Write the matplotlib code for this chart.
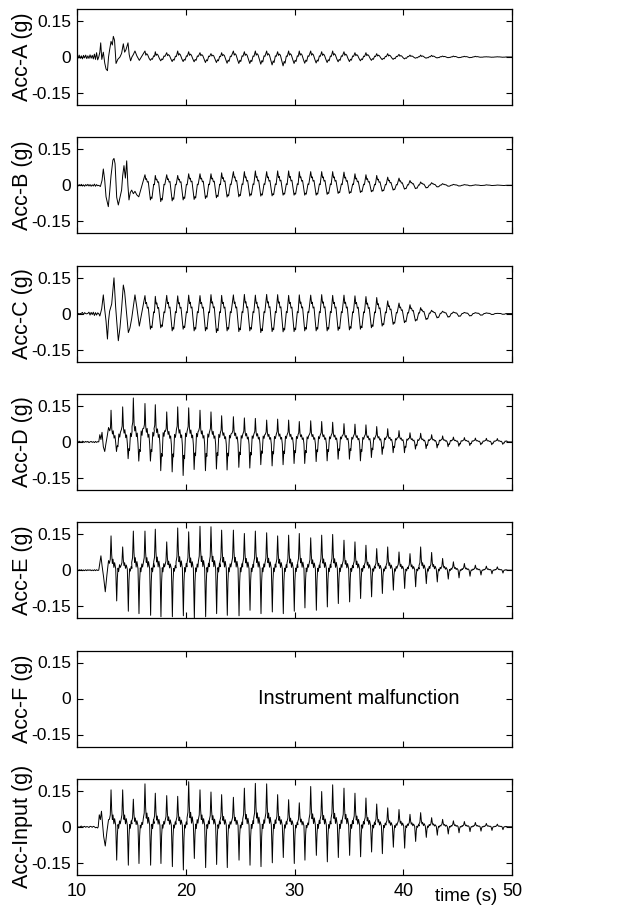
import matplotlib
matplotlib.use('Agg')
import matplotlib.pyplot as plt

plt.rcParams['font.family'] = ['Liberation Sans', 'DejaVu Sans']
plt.rcParams['axes.unicode_minus'] = False

labels = ['Acc-A (g)', 'Acc-B (g)', 'Acc-C (g)', 'Acc-D (g)', 'Acc-E (g)',
          'Acc-F (g)', 'Acc-Input (g)']

# times of the main positive peaks (s)
cycle_t = [13.13, 14.20, 15.18, 16.25, 17.20, 18.25, 19.26, 20.27, 21.31, 22.32,
           23.30, 24.38, 25.39, 26.40, 27.44, 28.45, 29.46, 30.44, 31.49, 32.50,
           33.51, 34.55, 35.56, 36.57, 37.56, 38.57, 39.61, 40.62, 41.60, 42.61,
           43.62, 44.61, 45.62, 46.63, 47.64, 48.65]

# pre-event noise
pre_t = [10.0, 10.1, 10.2, 10.3, 10.4, 10.5, 10.6, 10.7, 10.8, 10.9,
         11.0, 11.1, 11.2, 11.3, 11.4, 11.5, 11.6, 11.7, 11.8, 11.9]
end_t = [49.6, 50.0]
end_a = [0.0, 0.0]

# ---- Acc-A
pre_A = [0.006, -0.005, 0.008, -0.006, 0.005, -0.008, 0.007, -0.004, 0.008, -0.007,
         0.005, -0.006, 0.009, -0.005, 0.007, -0.008, 0.012, -0.01, 0.018, -0.012]
on_t_A = [12.0, 12.1, 12.18, 12.28, 12.42, 12.55, 12.67, 12.8, 12.9, 13.0,
          13.13, 13.25, 13.34, 13.45, 13.59, 13.75, 13.95, 14.1, 14.26, 14.38,
          14.5, 14.69, 14.8, 14.93, 15.05, 15.18, 15.33, 15.5, 15.73]
on_A = [0.0, 0.02, 0.059, -0.01, 0.02, -0.025, -0.05, -0.057, 0.0, 0.03,
        0.065, 0.05, 0.086, 0.07, -0.027, -0.01, 0.0, 0.015, 0.055, 0.02,
        0.03, 0.059, 0.01, -0.016, 0.0, 0.01, 0.025, 0.005, -0.014]
pos_A = [0.025, 0.022, 0.018, 0.025, 0.022, 0.018, 0.014, 0.018, 0.025, 0.022,
         0.025, 0.025, 0.022, 0.025, 0.025, 0.025, 0.022, 0.025, 0.022, 0.018,
         0.018, 0.014, 0.014, 0.011, 0.008, 0.008, 0.007, 0.004, 0.004, 0.003,
         0.003, 0.001, 0.001]
neg_A = [-0.014, -0.016, -0.019, -0.019, -0.02, -0.023, -0.023, -0.026, -0.027, -0.027,
         -0.03, -0.033, -0.037, -0.027, -0.026, -0.025, -0.023, -0.02, -0.019, -0.016,
         -0.014, -0.011, -0.01, -0.008, -0.005, -0.005, -0.004, -0.003, -0.003, -0.003,
         -0.001, -0.001, -0.001]

# ---- Acc-B
pre_B = [0.002, -0.003, 0.003, -0.002, 0.004, -0.003, 0.002, -0.004, 0.003, -0.002,
         0.004, -0.003, 0.003, -0.004, 0.002, -0.003, 0.005, -0.004, 0.003, -0.002]
on_t_B = [12.0, 12.15, 12.3, 12.42, 12.55, 12.67, 12.88, 13.0, 13.13, 13.3,
          13.4, 13.5, 13.65, 13.8, 13.95, 14.1, 14.2, 14.32, 14.45, 14.57,
          14.68, 14.78, 14.9, 15.03, 15.18, 15.33, 15.5, 15.68]
on_B = [0.0, -0.005, 0.02, 0.068, 0.02, -0.048, -0.089, -0.03, 0.04, 0.105,
        0.112, 0.09, -0.05, -0.082, -0.05, -0.02, 0.04, 0.082, 0.03, 0.102,
        0.0, -0.061, -0.03, -0.02, -0.035, -0.025, -0.04, -0.048]
pos_B = [0.044, 0.041, 0.044, 0.041, 0.048, 0.048, 0.048, 0.052, 0.057, 0.057,
         0.06, 0.057, 0.06, 0.06, 0.057, 0.057, 0.057, 0.057, 0.055, 0.048,
         0.044, 0.041, 0.034, 0.03, 0.02, 0.014, 0.011, 0.007, 0.004, 0.003,
         0.002, 0.002, 0.001]
neg_B = [-0.061, -0.068, -0.065, -0.061, -0.059, -0.055, -0.052, -0.049, -0.048, -0.045,
         -0.045, -0.044, -0.041, -0.041, -0.041, -0.041, -0.038, -0.034, -0.034, -0.03,
         -0.027, -0.025, -0.02, -0.016, -0.014, -0.011, -0.007, -0.004, -0.003, -0.002,
         -0.001, -0.001, -0.001]

# ---- Acc-C
pre_C = [0.0, 0.001, -0.001, 0.0, 0.001, 0.005, -0.004, 0.004, 0.0, -0.001,
         0.001, 0.006, -0.006, 0.005, -0.004, 0.006, -0.008, 0.004, -0.006, 0.003]
on_t_C = [12.0, 12.1, 12.27, 12.42, 12.54, 12.67, 12.8, 12.9, 13.0, 13.19,
          13.4, 13.55, 13.65, 13.8, 13.95, 14.1, 14.26, 14.38, 14.5, 14.72,
          14.87, 15.03, 15.33, 15.49, 15.73]
on_C = [0.0, -0.01, 0.02, 0.078, 0.02, -0.031, -0.106, -0.03, 0.01, 0.04,
        0.149, 0.03, -0.03, -0.113, -0.06, 0.02, 0.119, 0.09, 0.03, -0.079,
        -0.06, -0.02, 0.078, 0.03, -0.052]
pos_C = [0.075, 0.072, 0.076, 0.074, 0.077, 0.075, 0.079, 0.076, 0.078, 0.08,
         0.077, 0.08, 0.079, 0.076, 0.078, 0.077, 0.079, 0.076, 0.077, 0.074,
         0.071, 0.067, 0.053, 0.044, 0.037, 0.025, 0.014, 0.01, 0.007, 0.005,
         0.004, 0.003, 0.001]
neg_C = [-0.065, -0.059, -0.072, -0.065, -0.072, -0.072, -0.079, -0.072, -0.075, -0.072,
         -0.079, -0.075, -0.076, -0.075, -0.072, -0.072, -0.072, -0.07, -0.068, -0.065,
         -0.059, -0.052, -0.045, -0.038, -0.031, -0.025, -0.018, -0.015, -0.012, -0.01,
         -0.007, -0.004, -0.003]

# ---- Acc-D
pre_D = [0.002, -0.002, 0.003, 0.0, -0.002, 0.003, 0.001, -0.002, 0.002, -0.001,
         0.002, -0.003, 0.0, 0.002, -0.002, 0.001, -0.003, 0.002, -0.002, 0.001]
on_t_D = [12.0, 12.1, 12.2, 12.3, 12.42, 12.55, 12.65, 12.8, 12.9]
on_D = [0.0, 0.03, 0.01, 0.04, -0.02, -0.04, -0.01, 0.03, 0.06]
pos_D = [0.132, 0.146, 0.183, 0.16, 0.155, 0.125, 0.146, 0.142, 0.132, 0.125,
         0.109, 0.105, 0.1, 0.098, 0.091, 0.095, 0.091, 0.085, 0.088, 0.085,
         0.082, 0.076, 0.074, 0.071, 0.064, 0.055, 0.047, 0.038, 0.036, 0.03,
         0.025, 0.02, 0.018, 0.016, 0.015, 0.014]
neg_D = [-0.04, -0.07, -0.08, -0.08, -0.12, -0.125, -0.14, -0.115, -0.12, -0.113,
         -0.117, -0.106, -0.109, -0.095, -0.1, -0.095, -0.09, -0.09, -0.082, -0.079,
         -0.072, -0.072, -0.079, -0.065, -0.052, -0.045, -0.045, -0.03, -0.028, -0.025,
         -0.02, -0.018, -0.015, -0.012, -0.012, -0.01]

# ---- Acc-E
pre_E = [0.002, -0.002, 0.002, -0.001, 0.002, -0.002, 0.001, -0.002, 0.002, -0.002,
         0.002, -0.001, 0.002, -0.002, 0.001, -0.002, 0.002, -0.002, 0.002, -0.001]
on_t_E = [12.0, 12.1, 12.2, 12.3, 12.45, 12.6, 12.75, 12.9]
on_E = [0.0, 0.03, 0.06, 0.02, -0.03, -0.09, -0.02, 0.04]
pos_E = [0.143, 0.097, 0.163, 0.163, 0.171, 0.118, 0.176, 0.16, 0.183, 0.181,
         0.167, 0.167, 0.153, 0.163, 0.156, 0.143, 0.146, 0.153, 0.135, 0.146,
         0.149, 0.125, 0.118, 0.104, 0.09, 0.097, 0.076, 0.069, 0.097, 0.074,
         0.049, 0.035, 0.028, 0.021, 0.017, 0.014]
neg_E = [-0.128, -0.171, -0.181, -0.188, -0.194, -0.194, -0.19, -0.2, -0.194, -0.181,
         -0.188, -0.19, -0.167, -0.181, -0.174, -0.181, -0.171, -0.157, -0.167, -0.153,
         -0.139, -0.132, -0.118, -0.111, -0.097, -0.083, -0.076, -0.069, -0.056, -0.049,
         -0.037, -0.032, -0.025, -0.02, -0.015, -0.012]

# ---- Acc-Input
pre_I = [0.002, 0.0, -0.002, 0.001, 0.003, -0.001, 0.0, 0.002, -0.002, 0.001,
         0.0, -0.003, 0.002, 0.001, -0.002, 0.002, 0.0, -0.004, -0.002, -0.005]
on_t_I = [11.95, 12.05, 12.15, 12.25, 12.35, 12.45, 12.6, 12.75, 12.9]
on_I = [0.0, 0.05, 0.03, 0.065, 0.01, -0.04, -0.08, -0.02, 0.03]
pos_I = [0.154, 0.154, 0.115, 0.179, 0.14, 0.13, 0.127, 0.188, 0.154, 0.145,
         0.134, 0.123, 0.161, 0.181, 0.179, 0.134, 0.113, 0.10, 0.168, 0.147,
         0.175, 0.161, 0.14, 0.12, 0.095, 0.079, 0.072, 0.052, 0.059, 0.038,
         0.031, 0.025, 0.022, 0.018, 0.014, 0.011]
neg_I = [-0.139, -0.16, -0.153, -0.16, -0.153, -0.166, -0.18, -0.132, -0.17, -0.157,
         -0.17, -0.139, -0.16, -0.166, -0.15, -0.128, -0.153, -0.139, -0.119, -0.146,
         -0.128, -0.119, -0.125, -0.105, -0.112, -0.085, -0.089, -0.061, -0.044, -0.035,
         -0.03, -0.025, -0.02, -0.018, -0.015, -0.012]

# wave shape inside one cycle: (time offset, weight on peak, weight on trough)
SPIKE = [(-0.15, 0.2, 0), (-0.07, 0.32, 0), (0, 1, 0), (0.06, 0.45, 0), (0.12, 0.2, 0),
         (0.18, 0.32, 0), (0.26, 0.08, 0), (0.33, 0.22, 0), (0.43, 0.04, 0),
         (0.52, 0, 1), (0.58, 0, 0.25), (0.64, 0.06, 0), (0.7, -0.04, 0),
         (0.78, 0.16, 0), (0.85, 0.08, 0)]
TRI = [(0, 1, 0), (0.08, 0.55, 0), (0.14, 0.62, 0), (0.22, 0.3, 0), (0.3, 0.36, 0),
       (0.5, 0, 1), (0.57, 0, 0.8), (0.64, 0, 0.9), (0.8, 0.1, 0), (0.87, 0.05, 0)]
DWAVE = [(-0.12, 0.35, 0), (-0.05, 0.45, 0), (0, 1, 0), (0.07, 0.4, 0), (0.13, 0.25, 0),
         (0.2, 0.35, 0), (0.28, 0.12, 0), (0.36, 0.2, 0), (0.43, 0, 0.1),
         (0.5, 0, 1), (0.57, 0, 0.4), (0.63, 0, 0.5), (0.72, 0.25, 0), (0.8, 0.15, 0),
         (0.86, 0.3, 0)]
AWAVE = [(0, 1, 0), (0.08, 0.3, 0), (0.16, 0.55, 0), (0.25, 0.35, 0), (0.38, 0, 0.4),
         (0.5, 0, 1), (0.6, 0, 0.5), (0.68, 0, 0.7), (0.8, 0.2, 0), (0.88, 0.1, 0)]


def trace(pre, on_t, on_a, first, pos, neg, shape):
    t = list(pre_t) + list(on_t)
    a = list(pre) + list(on_a)
    for tc, p, n in zip(cycle_t[first:], pos, neg):
        for dt, wp, wn in shape:
            t.append(tc + dt)
            a.append(wp * p + wn * n)
    return t + end_t, a + end_a


traces = [
    trace(pre_A, on_t_A, on_A, 3, pos_A, neg_A, AWAVE),
    trace(pre_B, on_t_B, on_B, 3, pos_B, neg_B, TRI),
    trace(pre_C, on_t_C, on_C, 3, pos_C, neg_C, TRI),
    trace(pre_D, on_t_D, on_D, 0, pos_D, neg_D, DWAVE),
    trace(pre_E, on_t_E, on_E, 0, pos_E, neg_E, SPIKE),
    None,
    trace(pre_I, on_t_I, on_I, 0, pos_I, neg_I, SPIKE),
]

W, H = 638, 911
fig = plt.figure(figsize=(W / 100, H / 100), dpi=100, facecolor='white')

left, width, height = 77 / W, 435 / W, 96 / H
for i, (lab, tr) in enumerate(zip(labels, traces)):
    top = 9 + i * 128.3
    ax = fig.add_axes([left, 1 - (top + 96) / H, width, height])
    if tr is not None:
        ax.plot(tr[0], tr[1], color='k', lw=0.7)
    ax.set_xlim(10, 50)
    ax.set_ylim(-0.2, 0.2)
    ax.set_yticks([-0.15, 0, 0.15])
    ax.set_yticklabels(['-0.15', '0', '0.15'])
    ax.set_xticks([10, 20, 30, 40, 50])
    ax.tick_params(direction='in', top=True, right=True, length=4, width=0.8,
                   labelsize=12.5, pad=4)
    for s in ax.spines.values():
        s.set_linewidth(0.9)
    ax.set_ylabel(lab, fontsize=15.5, va='center')
    ax.yaxis.set_label_coords(-0.125, 0.5)
    if i < len(labels) - 1:
        ax.set_xticklabels([])
    else:
        ax.tick_params(axis='x', pad=6, labelsize=13)
        ax.set_xlabel('time (s)', fontsize=13.5)
        ax.xaxis.set_label_coords(0.895, -0.14)
    if tr is None:
        ax.text(26.6, 0, 'Instrument malfunction', fontsize=14.3, ha='left', va='center')

fig.savefig('out.png', dpi=100, facecolor='white')
